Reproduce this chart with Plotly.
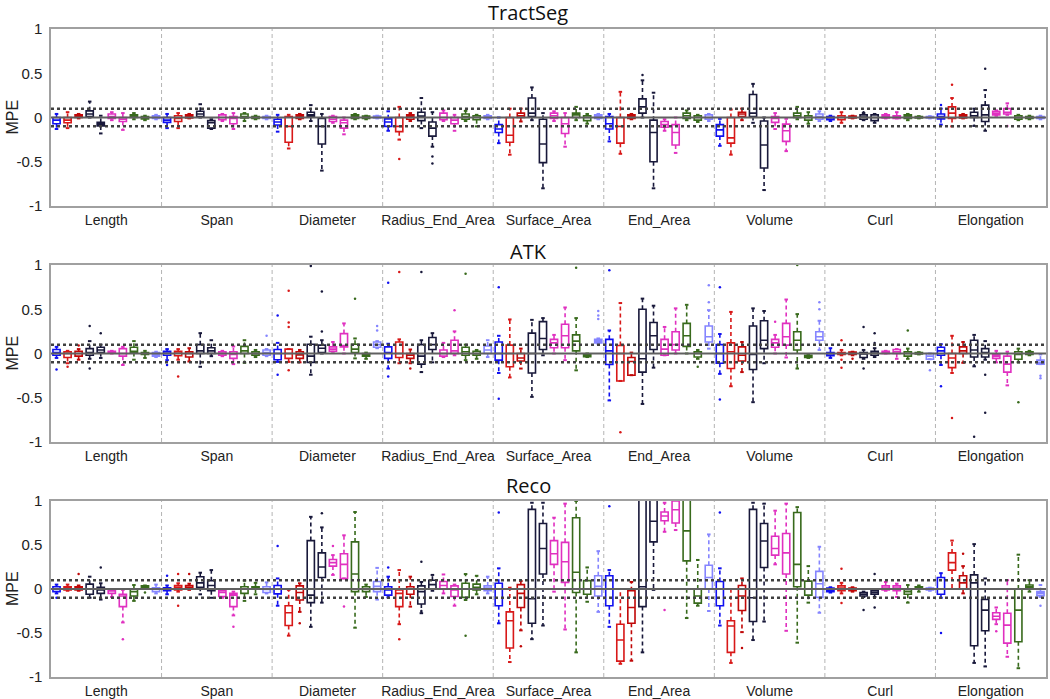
import plotly.graph_objects as go

categories = ["Length", "Span", "Diameter", "Radius_End_Area", "Surface_Area",
              "End_Area", "Volume", "Curl", "Elongation"]
panel_titles = ["TractSeg", "ATK", "Reco"]
series_colors = ["#1010f0", "#d81818", "#c00808", "#18183a", "#18183a",
                 "#e030c0", "#e030c0", "#386a1c", "#386a1c", "#8585ff"]
y_tick_vals = [-1, -0.5, 0, 0.5, 1]
y_tick_text = ["-1", "-0.5", "0", "0.5", "1"]

# box stats per category, 10 series each: (lower whisker, q1, median, q3, upper whisker)
tractseg_boxes = [
    [(-0.13,-0.07,-0.03,0.0,0.04),(-0.12,-0.06,-0.03,0.0,0.06),(-0.01,0.0,0.015,0.03,0.04),(0.0,0.01,0.04,0.075,0.18),(-0.18,-0.095,-0.075,-0.055,0.02),
     (-0.03,-0.01,0.01,0.04,0.06),(-0.14,-0.045,-0.02,0.0,0.05),(-0.02,0.0,0.015,0.03,0.05),(-0.03,-0.015,0.0,0.01,0.02),(-0.02,-0.01,0.005,0.02,0.03)],
    [(-0.12,-0.055,-0.03,0.0,0.04),(-0.12,-0.045,-0.01,0.02,0.05),(-0.01,-0.005,0.01,0.03,0.04),(0.0,0.01,0.04,0.07,0.15),(-0.13,-0.12,-0.06,-0.035,-0.02),
     (-0.04,-0.025,0.0,0.03,0.04),(-0.13,-0.07,-0.01,0.01,0.05),(-0.04,-0.005,0.01,0.04,0.05),(-0.02,-0.01,0.0,0.01,0.02),(-0.02,-0.01,0.0,0.01,0.02)],
    [(-0.16,-0.085,-0.05,-0.02,0.03),(-0.35,-0.28,-0.1,0.01,0.03),(-0.02,-0.01,0.01,0.03,0.04),(-0.04,0.01,0.03,0.06,0.14),(-0.6,-0.3,-0.1,-0.01,0.04),
     (-0.06,-0.045,-0.02,0.01,0.02),(-0.19,-0.12,-0.06,-0.03,0.0),(-0.02,-0.01,0.01,0.03,0.04),(-0.02,-0.01,0.0,0.015,0.02),(-0.01,-0.005,0.005,0.015,0.02)],
    [(-0.15,-0.1,-0.05,-0.015,0.07),(-0.25,-0.16,-0.1,0.0,0.12),(-0.04,-0.02,0.01,0.03,0.05),(-0.12,-0.035,0.015,0.06,0.22),(-0.33,-0.21,-0.12,-0.05,0.06),
     (-0.04,-0.025,0.0,0.05,0.08),(-0.15,-0.07,-0.03,0.0,0.03),(-0.04,-0.02,0.01,0.04,0.075),(-0.1,-0.025,0.0,0.02,0.03),(-0.02,-0.01,0.0,0.02,0.03)],
    [(-0.29,-0.17,-0.13,-0.08,0.0),(-0.42,-0.28,-0.2,0.0,0.1),(-0.045,0.0,0.02,0.05,0.1),(-0.03,0.01,0.05,0.22,0.34),(-0.8,-0.51,-0.3,-0.02,0.05),
     (-0.04,-0.01,0.02,0.05,0.07),(-0.33,-0.18,-0.07,0.0,0.05),(-0.03,0.0,0.03,0.05,0.12),(-0.07,-0.035,0.0,0.02,0.04),(-0.02,-0.01,0.01,0.03,0.04)],
    [(-0.27,-0.13,-0.07,0.01,0.04),(-0.41,-0.29,-0.1,0.0,0.29),(-0.02,-0.01,0.01,0.03,0.04),(0.0,0.05,0.12,0.21,0.42),(-0.8,-0.5,-0.17,-0.03,0.28),
     (-0.15,-0.11,-0.08,-0.045,-0.02),(-0.4,-0.31,-0.17,-0.08,0.0),(-0.03,-0.01,0.02,0.05,0.08),(-0.05,-0.03,0.0,0.02,0.03),(-0.04,-0.02,0.0,0.03,0.04)],
    [(-0.32,-0.21,-0.14,-0.08,-0.015),(-0.42,-0.29,-0.23,0.0,0.09),(-0.03,0.01,0.04,0.06,0.1),(-0.06,0.01,0.05,0.26,0.38),(-0.82,-0.57,-0.31,-0.04,0.0),
     (-0.13,-0.055,-0.01,0.01,0.05),(-0.38,-0.27,-0.15,-0.075,-0.015),(-0.02,0.0,0.02,0.05,0.12),(-0.07,-0.03,0.0,0.02,0.06),(-0.04,-0.02,0.01,0.04,0.07)],
    [(-0.04,-0.025,-0.005,0.01,0.02),(-0.06,-0.025,0.0,0.02,0.06),(-0.01,-0.005,0.005,0.015,0.02),(-0.03,-0.02,0.005,0.03,0.05),(-0.06,-0.035,0.0,0.03,0.04),
     (-0.01,-0.005,0.01,0.03,0.04),(-0.01,-0.01,0.005,0.02,0.06),(-0.03,-0.01,0.01,0.03,0.04),(-0.01,-0.005,0.0,0.01,0.015),(-0.01,-0.005,0.0,0.01,0.015)],
    [(-0.08,-0.015,0.01,0.04,0.1),(-0.1,-0.01,0.05,0.12,0.22),(-0.01,-0.005,0.01,0.03,0.04),(-0.095,0.0,0.02,0.06,0.1),(-0.15,-0.045,0.03,0.14,0.31),
     (0.02,0.03,0.05,0.07,0.08),(0.03,0.04,0.06,0.1,0.16),(-0.03,-0.02,0.0,0.02,0.03),(-0.02,-0.01,0.0,0.01,0.02),(-0.02,-0.01,0.0,0.01,0.02)],
]
atk_boxes = [
    [(-0.05,-0.02,0.01,0.045,0.075),(-0.11,-0.045,0.0,0.02,0.03),(-0.07,-0.03,0.0,0.025,0.05),(-0.06,-0.02,0.01,0.055,0.14),(-0.05,0.01,0.04,0.07,0.1),
     (0.0,0.01,0.015,0.025,0.03),(-0.13,-0.03,0.0,0.055,0.075),(-0.07,0.01,0.025,0.07,0.14),(-0.05,-0.01,0.0,0.01,0.03),(-0.04,-0.03,-0.01,0.01,0.02)],
    [(-0.075,-0.02,0.005,0.025,0.05),(-0.07,-0.025,0.005,0.025,0.05),(-0.09,-0.04,0.0,0.02,0.06),(-0.15,0.0,0.03,0.1,0.23),(-0.03,0.0,0.03,0.065,0.15),
     (-0.03,-0.02,0.0,0.02,0.03),(-0.12,-0.055,-0.01,0.02,0.08),(-0.105,0.0,0.03,0.08,0.15),(-0.04,-0.02,0.0,0.02,0.04),(-0.03,-0.02,0.01,0.04,0.05)],
    [(-0.095,-0.07,0.0,0.045,0.12),(-0.095,-0.055,0.0,0.05,0.05),(-0.1,-0.055,-0.015,0.02,0.04),(-0.24,-0.1,-0.03,0.105,0.19),(0.0,0.01,0.06,0.095,0.15),
     (0.02,0.025,0.05,0.075,0.13),(0.0,0.075,0.09,0.225,0.34),(-0.055,0.01,0.05,0.105,0.17),(-0.06,-0.03,-0.01,0.0,0.01),(0.06,0.07,0.1,0.13,0.14)],
    [(-0.17,-0.055,0.01,0.075,0.11),(-0.11,-0.045,0.0,0.13,0.16),(-0.11,-0.055,-0.02,0.0,0.045),(-0.21,-0.12,-0.03,0.1,0.15),(-0.1,0.045,0.1,0.18,0.23),
     (-0.04,-0.03,0.0,0.04,0.12),(-0.02,0.0,0.03,0.15,0.25),(-0.075,-0.02,0.02,0.07,0.1),(-0.06,-0.02,0.0,0.025,0.04),(-0.04,0.0,0.04,0.085,0.15)],
    [(-0.22,-0.075,0.0,0.13,0.2),(-0.27,-0.15,0.0,0.095,0.385),(-0.17,-0.085,-0.05,0.0,0.055),(-0.49,-0.22,0.0,0.23,0.38),(-0.02,0.045,0.17,0.36,0.4),
     (0.0,0.065,0.12,0.16,0.21),(-0.075,0.065,0.2,0.33,0.52),(-0.19,0.03,0.14,0.21,0.4),(-0.04,-0.035,-0.02,-0.01,0.0),(0.11,0.12,0.14,0.16,0.17)],
    [(-0.53,-0.125,0.03,0.16,0.26),(-0.31,-0.31,0.0,0.09,0.57),(-0.245,-0.245,-0.09,-0.045,0.01),(-0.57,-0.21,-0.06,0.5,0.62),(-0.16,0.045,0.2,0.35,0.54),
     (-0.02,-0.02,0.05,0.16,0.3),(0.0,0.04,0.1,0.245,0.51),(0.0,0.08,0.2,0.34,0.55),(-0.06,-0.04,0.0,0.02,0.04),(0.055,0.13,0.19,0.31,0.49)],
    [(-0.23,-0.11,0.0,0.1,0.22),(-0.37,-0.17,0.02,0.12,0.47),(-0.21,-0.085,-0.02,0.075,0.13),(-0.55,-0.18,-0.01,0.31,0.51),(-0.11,0.055,0.15,0.37,0.48),
     (0.0,0.07,0.12,0.16,0.21),(-0.045,0.095,0.19,0.34,0.61),(-0.17,0.04,0.15,0.245,0.445),(-0.05,-0.045,-0.03,-0.02,-0.01),(0.04,0.15,0.19,0.245,0.37)],
    [(-0.05,-0.025,-0.005,0.01,0.06),(-0.02,-0.01,0.0,0.01,0.04),(-0.02,-0.01,0.0,0.015,0.02),(-0.06,-0.045,-0.005,0.01,0.04),(-0.04,-0.02,0.005,0.025,0.06),
     (0.0,0.0,0.01,0.025,0.03),(-0.06,0.0,0.02,0.045,0.05),(-0.06,-0.03,0.0,0.02,0.055),(-0.01,-0.005,0.0,0.01,0.015),(-0.065,-0.065,-0.03,0.0,0.0)],
    [(-0.13,-0.02,0.03,0.07,0.105),(-0.22,-0.16,-0.05,0.0,0.2),(-0.105,0.0,0.03,0.075,0.13),(-0.145,-0.04,0.04,0.15,0.21),(-0.07,-0.04,0.01,0.055,0.14),
     (-0.1,-0.055,-0.03,-0.01,0.03),(-0.36,-0.21,-0.12,-0.03,0.02),(-0.1,-0.065,-0.01,0.02,0.055),(-0.02,-0.01,0.005,0.02,0.03),(-0.12,-0.12,-0.1,-0.075,-0.01)],
]
reco_boxes = [
    [(-0.05,-0.03,0.0,0.025,0.05),(-0.02,-0.01,0.01,0.025,0.05),(-0.02,-0.01,0.01,0.025,0.04),(-0.1,-0.06,0.0,0.055,0.14),(-0.12,-0.05,-0.01,0.02,0.065),
     (-0.09,-0.05,-0.02,-0.01,0.0),(-0.38,-0.2,-0.08,-0.06,-0.01),(-0.135,-0.08,-0.03,0.0,0.045),(0.0,0.01,0.02,0.035,0.04),(-0.05,-0.03,0.0,0.015,0.05)],
    [(-0.06,-0.02,0.0,0.015,0.04),(-0.03,-0.01,0.02,0.04,0.065),(-0.01,0.0,0.02,0.04,0.06),(-0.06,0.02,0.07,0.14,0.185),(-0.1,-0.02,0.04,0.095,0.215),
     (-0.1,-0.085,-0.04,-0.02,0.0),(-0.3,-0.2,-0.07,-0.05,-0.03),(-0.135,-0.05,0.0,0.025,0.095),(-0.06,0.0,0.01,0.025,0.07),(-0.05,-0.04,-0.005,0.025,0.075)],
    [(-0.19,-0.055,0.0,0.04,0.12),(-0.53,-0.415,-0.27,-0.19,-0.01),(-0.26,-0.125,-0.04,0.035,0.065),(-0.43,-0.155,-0.07,0.55,0.82),(-0.155,0.13,0.25,0.41,0.7),
     (0.16,0.26,0.3,0.335,0.385),(0.12,0.12,0.28,0.4,0.61),(-0.44,-0.03,0.17,0.535,0.875),(-0.09,-0.03,0.0,0.025,0.05),(-0.12,-0.03,0.03,0.085,0.24)],
    [(-0.095,-0.07,-0.01,0.025,0.14),(-0.4,-0.2,-0.05,-0.01,0.215),(-0.2,-0.06,0.0,0.025,0.14),(-0.275,-0.17,-0.03,0.035,0.08),(-0.02,0.0,0.05,0.1,0.16),
     (-0.05,0.0,0.04,0.085,0.165),(-0.19,-0.085,-0.01,0.035,0.05),(-0.125,-0.095,0.0,0.065,0.17),(-0.06,-0.01,0.02,0.055,0.15),(-0.05,-0.02,0.01,0.035,0.14)],
    [(-0.39,-0.19,0.0,0.065,0.235),(-0.83,-0.67,-0.36,-0.26,0.015),(-0.47,-0.21,-0.05,0.05,0.09),(-0.57,-0.39,-0.11,0.905,0.98),(-0.415,0.17,0.46,0.745,0.98),
     (-0.03,0.28,0.4,0.55,0.81),(-0.46,0.075,0.31,0.53,0.97),(-0.72,-0.04,0.19,0.81,1.0),(-0.145,-0.06,0.0,0.095,0.245),(-0.26,-0.08,0.03,0.15,0.43)],
    [(-0.43,-0.19,0.0,0.15,0.215),(-0.85,-0.82,-0.58,-0.4,0.0),(-0.815,-0.39,-0.21,-0.02,0.08),(-0.72,-0.2,0.025,1.2,1.4),(-0.01,0.535,0.77,1.1,1.3),
     (0.65,0.775,0.83,0.875,0.98),(0.67,0.75,0.9,1.0,1.2),(-0.33,0.32,0.66,1.1,1.3),(-0.19,-0.16,-0.08,0.0,0.33),(-0.25,0.0,0.13,0.27,0.62)],
    [(-0.415,-0.19,0.0,0.085,0.235),(-0.84,-0.72,-0.42,-0.36,0.0),(-0.49,-0.245,-0.08,0.04,0.12),(-0.58,-0.37,-0.1,0.905,0.98),(-0.37,0.245,0.545,0.745,0.97),
     (0.28,0.385,0.46,0.6,0.89),(-0.475,0.17,0.41,0.63,0.97),(-0.61,0.025,0.28,0.87,0.93),(-0.155,-0.07,0.0,0.09,0.26),(-0.27,-0.095,0.06,0.2,0.48)],
    [(-0.04,-0.03,-0.01,0.01,0.02),(-0.05,-0.02,0.01,0.035,0.07),(-0.03,-0.02,0.0,0.01,0.02),(-0.09,-0.08,-0.06,-0.04,-0.03),(-0.09,-0.06,-0.04,-0.02,0.0),
     (-0.02,-0.01,0.01,0.035,0.08),(-0.09,-0.02,0.01,0.035,0.06),(-0.155,-0.06,-0.03,-0.005,0.045),(-0.03,0.0,0.01,0.025,0.04),(-0.02,-0.01,0.0,0.01,0.015)],
    [(-0.1,-0.06,0.0,0.13,0.18),(0.0,0.215,0.3,0.41,0.55),(-0.05,0.0,0.07,0.15,0.26),(-0.84,-0.645,0.07,0.16,0.51),(-0.88,-0.475,-0.24,-0.12,0.12),
     (-0.4,-0.345,-0.31,-0.27,-0.21),(-0.77,-0.615,-0.41,-0.275,0.1),(-0.9,-0.6,-0.24,0.0,0.39),(-0.03,0.01,0.025,0.045,0.1),(-0.09,-0.075,-0.05,-0.03,0.045)],
]

# outliers: (category index, series index, value)
tractseg_outliers = [(3,1,-0.47),(3,4,-0.44),(3,4,-0.52),(5,3,0.48),(7,3,0.06),(8,0,0.14),(8,1,0.37),(8,4,0.55),(8,6,-0.095)]
atk_outliers = [(0,0,-0.18),(0,1,-0.15),(0,2,0.09),(0,3,0.31),(0,3,-0.17),(0,4,0.23),
                (1,0,-0.13),(1,1,-0.26),(1,9,0.2),
                (2,0,0.43),(2,0,-0.24),(2,1,0.71),(2,1,0.35),(2,1,0.3),(2,1,-0.19),(2,3,0.99),(2,4,0.7),(2,4,0.25),(2,7,0.62),(2,9,0.31),(2,9,0.26),
                (3,0,0.8),(3,0,-0.26),(3,1,0.92),(3,2,-0.17),(3,3,0.92),(3,6,0.49),(3,7,0.9),
                (4,0,0.75),(4,0,-0.51),(4,7,0.97),(4,9,0.48),(4,9,0.43),(4,9,0.39),
                (5,0,0.94),(5,1,-0.89),(5,8,-0.15),(5,9,0.77),(5,9,0.58),
                (6,0,0.75),(6,0,-0.52),(6,5,0.36),(6,7,1.0),(6,9,0.58),(6,9,0.5),
                (7,1,0.15),(7,1,-0.16),(7,1,-0.07),(7,2,-0.06),(7,3,0.3),(7,3,-0.17),(7,4,0.23),(7,4,0.12),(7,7,0.26),(7,9,-0.19),
                (8,0,-0.37),(8,1,-0.73),(8,3,-0.94),(8,4,-0.24),(8,4,-0.67),(8,7,-0.55),(8,9,-0.25),(8,9,-0.28)]
reco_outliers = [(0,0,-0.1),(0,2,0.17),(0,4,0.245),(0,6,-0.57),(0,8,-0.04),
                 (1,0,0.15),(1,1,0.17),(1,1,-0.19),(1,2,0.17),(1,6,-0.43),
                 (2,0,0.49),(2,2,-0.39),(2,4,0.86),(2,5,0.49),(2,6,-0.2),
                 (3,0,0.245),(3,1,-0.57),(3,3,0.31),(3,3,-0.25),(3,7,-0.53),
                 (4,0,0.87),(4,2,-0.65),
                 (5,0,0.94),(5,5,-0.24),
                 (6,0,0.87),(6,2,-0.67),
                 (7,1,0.23),(7,1,-0.16),(7,3,-0.24),(7,4,0.17),(7,4,-0.21),
                 (8,0,-0.5),(8,2,0.4),(8,5,-0.48),(8,9,-0.19)]

panels = [(tractseg_boxes, tractseg_outliers), (atk_boxes, atk_outliers), (reco_boxes, reco_outliers)]

W, H = 1050, 699
plot_rows_px = [(29, 206), (265, 442), (501, 677)]
x_left_px, x_right_px = 51, 1046
title_y_px = [12, 252, 485]
title_x_px = 528
mpe_x_px = 12

n_series = len(series_colors)
box_width = 0.065
cap_half = 0.016

def pos(i, j):
    return i + 0.05 + j * (0.9 / (n_series - 1))

fig = go.Figure()
layout_axes = {}
shapes = []
annotations = []
font_axes = "Liberation Sans, Arial, sans-serif"

for p, (boxes, outliers) in enumerate(panels):
    ax = "" if p == 0 else str(p + 1)
    xref, yref = "x" + ax, "y" + ax
    for j in range(n_series):
        col = series_colors[j]
        xs = [pos(i, j) for i in range(len(categories))]
        stats = [boxes[i][j] for i in range(len(categories))]
        fig.add_trace(go.Box(
            x=xs, q1=[s[1] for s in stats], median=[s[2] for s in stats], q3=[s[3] for s in stats],
            lowerfence=[s[1] for s in stats], upperfence=[s[3] for s in stats],
            width=box_width, line=dict(color=col, width=1.6), fillcolor="rgba(255,255,255,0)",
            boxpoints=False, whiskerwidth=0, showlegend=False, hoverinfo="skip",
            xaxis=xref, yaxis=yref))
        wx, wy, cx, cy = [], [], [], []
        for x, s in zip(xs, stats):
            lw, q1, med, q3, uw = s
            if uw > q3:
                wx += [x, x, None]; wy += [q3, uw, None]
            if lw < q1:
                wx += [x, x, None]; wy += [q1, lw, None]
            cx += [x - cap_half, x + cap_half, None, x - cap_half, x + cap_half, None]
            cy += [uw, uw, None, lw, lw, None]
        fig.add_trace(go.Scatter(x=wx, y=wy, mode="lines", line=dict(color=col, width=1.6, dash="4px,3px"),
                                 showlegend=False, hoverinfo="skip", xaxis=xref, yaxis=yref))
        fig.add_trace(go.Scatter(x=cx, y=cy, mode="lines", line=dict(color=col, width=2),
                                 showlegend=False, hoverinfo="skip", xaxis=xref, yaxis=yref))
        ox = [pos(c, s) for c, s, v in outliers if s == j]
        oy = [v for c, s, v in outliers if s == j]
        if ox:
            fig.add_trace(go.Scatter(x=ox, y=oy, mode="markers", marker=dict(color=col, size=2.5),
                                     showlegend=False, hoverinfo="skip", xaxis=xref, yaxis=yref))
    top_px, bot_px = plot_rows_px[p]
    layout_axes["xaxis" + ax] = dict(
        domain=[x_left_px / W, x_right_px / W], range=[0, len(categories)], anchor=yref, automargin=False,
        tickvals=[i + 0.5 for i in range(len(categories))], ticktext=categories, ticks="",
        showgrid=False, zeroline=False, showline=True, mirror=True, linecolor="#a0a0a0", linewidth=1.5,
        tickfont=dict(family=font_axes, size=14, color="#222"), ticklabelstandoff=0)
    layout_axes["yaxis" + ax] = dict(
        domain=[1 - bot_px / H, 1 - top_px / H], range=[-1, 1], anchor=xref, automargin=False,
        tickvals=y_tick_vals, ticktext=y_tick_text, ticks="",
        showgrid=False, zeroline=False, showline=True, mirror=True, linecolor="#a0a0a0", linewidth=1.5,
        tickfont=dict(family=font_axes, size=15, color="#222"), ticklabelstandoff=4)
    for k in range(1, len(categories)):
        shapes.append(dict(type="line", xref=xref, yref=yref, x0=k, x1=k, y0=-1, y1=1,
                           line=dict(color="#b4b4b4", width=1, dash="4px,3px"), layer="below"))
    shapes.append(dict(type="line", xref=xref, yref=yref, x0=0, x1=len(categories), y0=0, y1=0,
                       line=dict(color="#606060", width=2)))
    for yv in (0.1, -0.1):
        shapes.append(dict(type="line", xref=xref, yref=yref, x0=0, x1=len(categories), y0=yv, y1=yv,
                           line=dict(color="#404040", width=2.5, dash="dot")))
    annotations.append(dict(text=panel_titles[p], xref="paper", yref="paper", x=title_x_px / W, y=1 - title_y_px[p] / H,
                            showarrow=False, xanchor="center", yanchor="middle",
                            font=dict(family="Open Sans, sans-serif", size=20, color="#111")))
    annotations.append(dict(text="MPE", xref="paper", yref="paper", x=mpe_x_px / W,
                            y=1 - (top_px + bot_px) / 2 / H, textangle=-90,
                            showarrow=False, xanchor="center", yanchor="middle",
                            font=dict(family=font_axes, size=16, color="#222")))

fig.update_layout(width=W, height=H, margin=dict(l=0, r=0, t=0, b=0, autoexpand=False),
                  paper_bgcolor="white", plot_bgcolor="white", boxmode="overlay",
                  shapes=shapes, annotations=annotations, **layout_axes)

# remove the default page margin so the 1050x699 figure fills the window exactly
fig.write_html("out.html", config={"displayModeBar": False},
               post_script="document.body.style.margin='0';document.body.style.overflow='hidden';")
